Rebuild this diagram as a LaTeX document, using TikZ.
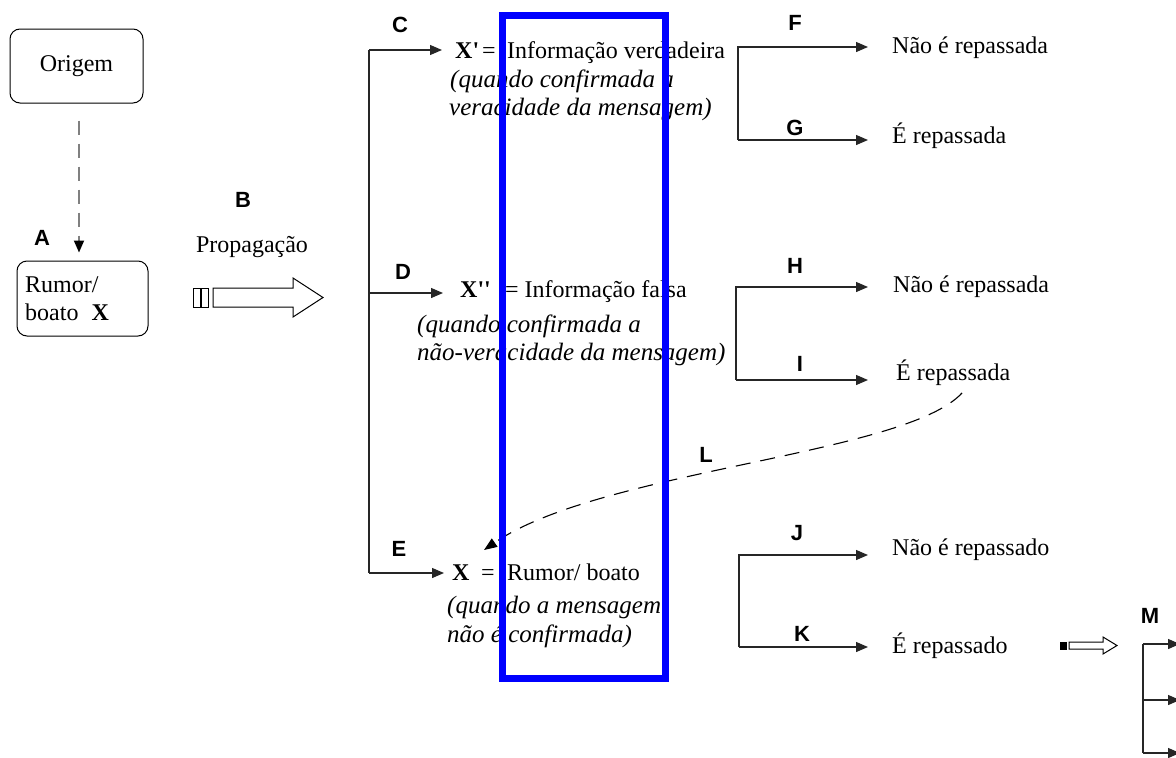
\documentclass[tikz,border=0pt]{standalone}
\usepackage{fontspec}
\setmainfont{Liberation Serif}
\newfontfamily\labfont{Liberation Sans}
\newfontfamily\rawserif{Liberation Serif}[Ligatures=TeXOff]
\usetikzlibrary{arrows.meta}
\begin{document}
\begin{tikzpicture}[x=1pt,y=-1pt,
  txt/.style={inner sep=0pt, anchor=base west, font=\fontsize{24}{28}\selectfont},
  itx/.style={inner sep=0pt, anchor=base west, font=\fontsize{25}{28}\selectfont\itshape},
  lab/.style={inner sep=0pt, font=\labfont\bfseries\fontsize{22}{26}\selectfont},
  box/.style={draw, rounded corners=10pt, line width=1pt},
  conn/.style={line width=1.3pt, draw=black!85},
  arr/.style={conn, -{Triangle[length=12pt,width=10pt]}},
  dasharr/.style={line width=1.8pt, draw=black!50, dash pattern=on 14pt off 9pt, -{Triangle[length=12pt,width=10pt,color=black]}},
  curvearr/.style={line width=1.1pt, draw=black, dash pattern=on 15pt off 10pt, -{Triangle[length=13pt,width=10pt]}},
  blockarr/.style={line width=1pt, draw=black, fill=white},
  hilite/.style={draw={rgb,255:red,0;green,0;blue,255}, line width=7pt}
]
\useasboundingbox (0,0) rectangle (1176,758);

% left part
\node[box, minimum width=133pt, minimum height=74pt, font=\fontsize{24}{28}\selectfont] (origem) at (76.5,66) {Origem};
\node[box, minimum width=131pt, minimum height=75pt] (rumor) at (82.5,298.5) {};
\node[txt] (rumor1) at (25,292) {Rumor/};
\node[txt] (rumor2) at (25,320) {boato\hspace{13pt}\textbf{X}};
\coordinate (xd) at (79,0);
\draw[dasharr, shorten <=17pt, shorten >=8pt] (origem.south -| xd) -- (rumor.north -| xd);
\node[lab] (A) at (42,238) {A};

\node[lab] (B) at (243,200) {B};
\node[txt, anchor=base] (prop) at (252,252) {Propagação};
\draw[blockarr] (193,288) rectangle (200,307);
\draw[blockarr] (201,288) rectangle (208,307);
\draw[blockarr] (213,288) -- (293,288) -- (293,278) -- (323,297.5) -- (293,317) -- (293,307) -- (213,307) -- cycle;

% trunk
\coordinate (tC) at (369,50);
\coordinate (tD) at (369,293);
\coordinate (tE) at (369,573);
\coordinate (cTip) at (442,50);
\coordinate (dTip) at (443,293);
\coordinate (eTip) at (444,573);
\draw[conn] (tC) -- (tE);
\draw[arr] (tC) -- (cTip);
\draw[arr] (tD) -- (dTip);
\draw[arr] (tE) -- (eTip);
\node[lab] (C) at (400,25) {C};
\node[lab] (D) at (403,272) {D};
\node[lab] (E) at (399,549) {E};

% C texts
\node[txt] (xp) at (455,58) {\rawserif\bfseries X'};
\node[txt] (xpe) at (482,58) {=};
\node[txt] (xpt) at (507,58) {Informação verdadeira};
\node[itx] (xpi1) at (450,87) {(quando confirmada a};
\node[itx] (xpi2) at (449,115) {veracidade da mensagem)};

% D texts
\node[txt] (xpp) at (460,297) {\rawserif\bfseries X''};
\node[txt] (xppt) at (505,297) {= Informação falsa};
\node[itx] (xppi1) at (417,332) {(quando confirmada a};
\node[itx] (xppi2) at (417,360) {não-veracidade da mensagem)};

% E texts
\node[txt] (xe) at (452,580) {\textbf{X}};
\node[txt] (xet) at (481,580) {=};
\node[txt] (xet2) at (507,580) {Rumor/ boato};
\node[itx] (xei1) at (447,613) {(quando a mensagem};
\node[itx] (xei2) at (447,642) {não é confirmada)};

% F/G
\coordinate (fg1) at (738,47);
\coordinate (fg2) at (738,140);
\coordinate (fTip) at (868,47);
\coordinate (gTip) at (868,140);
\draw[arr] (fg2) -- (fg1) -- (fTip);
\draw[arr] (fg2) -- (gTip);
\node[lab] (F) at (795,23) {F};
\node[lab] (G) at (795,128) {G};
\node[txt] (ft) at (892,53) {Não é repassada};
\node[txt] (gt) at (892,143) {É repassada};

% H/I
\coordinate (hi1) at (736,287);
\coordinate (hi2) at (736,380);
\coordinate (hTip) at (868,287);
\coordinate (iTip) at (868,380);
\draw[arr] (hi2) -- (hi1) -- (hTip);
\draw[arr] (hi2) -- (iTip);
\node[lab] (H) at (795,266) {H};
\node[lab] (I) at (800,364) {I};
\node[txt] (ht) at (893,292) {Não é repassada};
\node[txt] (it) at (896,380) {É repassada};

% J/K
\coordinate (jk1) at (739,555);
\coordinate (jk2) at (739,647);
\coordinate (jTip) at (868,555);
\coordinate (kTip) at (868,647);
\draw[arr] (jk2) -- (jk1) -- (jTip);
\draw[arr] (jk2) -- (kTip);
\node[lab] (J) at (797,533) {J};
\node[lab] (K) at (802,634) {K};
\node[txt] (jt) at (892,555) {Não é repassado};
\node[txt] (kt) at (892,653) {É repassado};

% small block arrow
\draw[line width=1pt, fill=black] (1060,642) rectangle (1066,649);
\draw[blockarr] (1069,642) -- (1103,642) -- (1103,637) -- (1117,645.5) -- (1103,654) -- (1103,649) -- (1069,649) -- cycle;

% M
\coordinate (m1) at (1143,644);
\coordinate (m2) at (1143,700);
\coordinate (m3) at (1143,753);
\coordinate (m1t) at (1180,644);
\coordinate (m2t) at (1180,700);
\coordinate (m3t) at (1180,753);
\draw[conn] (m1) -- (m3);
\draw[arr] (m1) -- (m1t);
\draw[arr] (m2) -- (m2t);
\draw[arr] (m3) -- (m3t);
\node[lab] (M) at (1150,616) {M};

% L dashed curve
\coordinate (lS) at (962,393);
\coordinate (lE) at (484,550);
\draw[curvearr] (lS) .. controls (905,455) and (600,470) .. (lE);
\node[lab] (L) at (706,455) {L};

% blue highlight
\draw[hilite] (502,15.5) rectangle (665,678.5);
\end{tikzpicture}
\end{document}
